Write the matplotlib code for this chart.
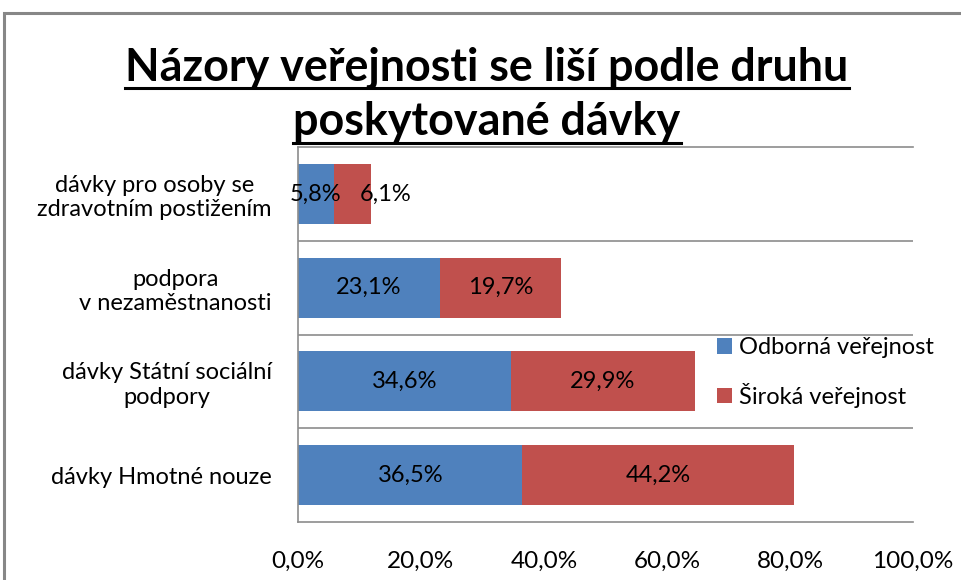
import matplotlib
matplotlib.use("Agg")
import matplotlib.pyplot as plt
from matplotlib.lines import Line2D
from matplotlib.patches import Rectangle

plt.rcParams['font.family'] = ['Lato', 'DejaVu Sans']

# data
categories = ["dávky Hmotné nouze", "dávky Státní sociální\npodpory",
              "podpora\nv nezaměstnanosti", "dávky pro osoby se\nzdravotním postižením"]
odborna = [36.5, 34.6, 23.1, 5.8]
siroka = [44.2, 29.9, 19.7, 6.1]
series_names = ["Odborná veřejnost", "Široká veřejnost"]
x_ticks = [0, 20, 40, 60, 80, 100]
title_lines = ["Názory veřejnosti se liší podle druhu", "poskytované dávky"]

blue = "#4F81BD"
red = "#C0504D"
grid_col = "#8C8C8C"

W, H = 962, 580
fig = plt.figure(figsize=(W / 100, H / 100), dpi=100)
ax = fig.add_axes([298 / W, 1 - 522 / H, (913 - 298) / W, (522 - 147) / H])

ypos = list(range(len(categories)))
b1 = ax.barh(ypos, odborna, height=0.64, color=blue, label=series_names[0])
b2 = ax.barh(ypos, siroka, left=odborna, height=0.64, color=red, label=series_names[1])

def fmt(vals):
    return [f"{v:.1f}%".replace(".", ",") for v in vals]

lab1 = ax.bar_label(b1, labels=fmt(odborna), label_type="center", fontsize=17, color="black")
lab2 = ax.bar_label(b2, labels=fmt(siroka), label_type="center", fontsize=17, color="black")
# narrow segments: labels nudged like in the original chart
for ann, v in zip(lab2, siroka):
    if v < 8:
        ann.xyann = (24, 0)

ax.set_xlim(0, 100)
ax.set_ylim(-0.5, len(categories) - 0.5)
ax.set_xticks(x_ticks)
ax.set_xticklabels([f"{t:.1f}%".replace(".", ",") for t in x_ticks], fontsize=17.5)
ax.set_yticks(ypos)
ax.set_yticklabels(categories, fontsize=17)
for lab in ax.get_yticklabels():
    lab.set_multialignment("center")
ax.tick_params(axis="both", length=0)
ax.tick_params(axis="x", pad=21)
ax.tick_params(axis="y", pad=19)

# horizontal lines between categories
ax.set_yticks([y + 0.5 for y in ypos[:-1]], minor=True)
ax.tick_params(axis="y", which="minor", length=0)
ax.grid(True, axis="y", which="minor", color=grid_col, linewidth=1.2)
ax.set_axisbelow(True)
for side in ["left", "top", "bottom"]:
    ax.spines[side].set_color(grid_col)
    ax.spines[side].set_linewidth(1.2)
ax.spines["right"].set_visible(False)

ax.legend(loc="upper left", bbox_to_anchor=(717 / W, 1 - 337 / H),
          bbox_transform=fig.transFigure, frameon=False, fontsize=17,
          borderpad=0, borderaxespad=0,
          handlelength=0.65, handleheight=0.65, handletextpad=0.3,
          labelspacing=1.05)

# title with underline
title_texts = []
for i, line in enumerate(title_lines):
    y_base = 80 + i * 55
    t = fig.text(487 / W, 1 - y_base / H, line, ha="center", va="baseline",
                 fontsize=32.3, fontweight="bold", color="black")
    title_texts.append((t, y_base))

fig.canvas.draw()
renderer = fig.canvas.get_renderer()
for t, y_base in title_texts:
    bb = t.get_window_extent(renderer)
    yl = 1 - (y_base + 8) / H
    fig.add_artist(Line2D([bb.x0 / W, bb.x1 / W], [yl, yl], transform=fig.transFigure,
                          color="black", linewidth=2.2))

# outer chart border (partly cut off in the picture)
fig.add_artist(Rectangle((4 / W, -0.05), 1.1, 1 - 13 / H + 0.05, transform=fig.transFigure,
                         fill=False, edgecolor="#878787", linewidth=2.2))

fig.savefig("out.png", dpi=100)
